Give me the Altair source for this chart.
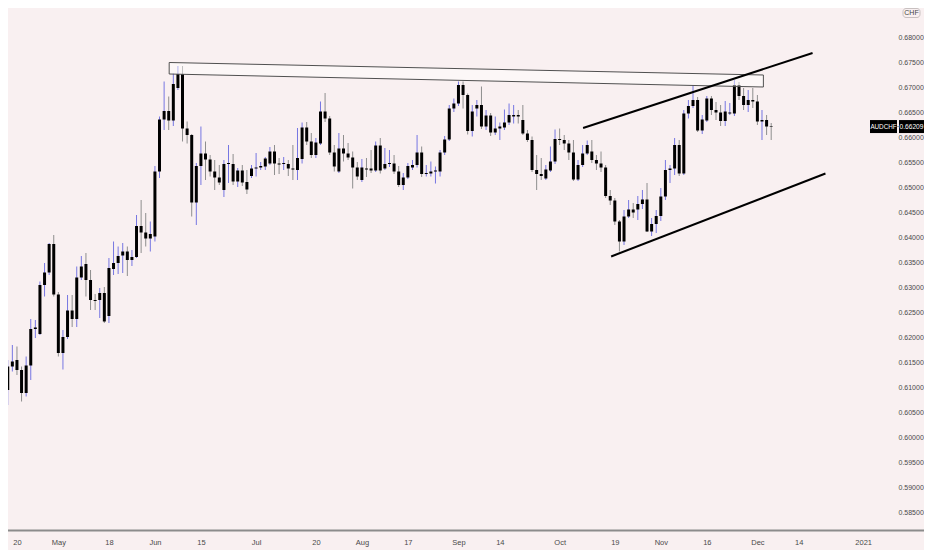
import altair as alt
import pandas as pd

# ---------------- data ----------------
# trading-day index: 0 = 20 Apr 2020, 164 = 4 Dec 2020
day_index = list(range(-2, 165))

opens = [0.6094, 0.6141, 0.6154, 0.6134, 0.6088, 0.6143, 0.6216, 0.6206, 0.6304, 0.6329,
         0.6386, 0.6285, 0.6168, 0.6200, 0.6253, 0.6236, 0.6319, 0.6346, 0.6314, 0.6274,
         0.6274, 0.6288, 0.6242, 0.6336, 0.6348, 0.6363, 0.6371, 0.6354, 0.6360, 0.6422,
         0.6409, 0.6397, 0.6401, 0.6531, 0.6635, 0.6652, 0.6633, 0.6698, 0.6726, 0.6617,
         0.6604, 0.6469, 0.6542, 0.6567, 0.6555, 0.6531, 0.6519, 0.6494, 0.6546, 0.6546,
         0.6511, 0.6533, 0.6510, 0.6522, 0.6537, 0.6539, 0.6541, 0.6547, 0.6571, 0.6547,
         0.6546, 0.6546, 0.6537, 0.6534, 0.6556, 0.6619, 0.6591, 0.6564, 0.6587, 0.6651,
         0.6637, 0.6569, 0.6531, 0.6577, 0.6567, 0.6559, 0.6539, 0.6514, 0.6537, 0.6537,
         0.6533, 0.6583, 0.6537, 0.6546, 0.6547, 0.6531, 0.6504, 0.6519, 0.6539, 0.6544,
         0.6569, 0.6526, 0.6527, 0.6531, 0.6531, 0.6569, 0.6595, 0.6657, 0.6667, 0.6704,
         0.6684, 0.6612, 0.6657, 0.6664, 0.6621, 0.6643, 0.6609, 0.6617, 0.6619, 0.6629,
         0.6641, 0.6644, 0.6634, 0.6607, 0.6594, 0.6534, 0.6526, 0.6517, 0.6533, 0.6551,
         0.6596, 0.6594, 0.6587, 0.6569, 0.6515, 0.6544, 0.6567, 0.6571, 0.6554, 0.6547,
         0.6539, 0.6482, 0.6473, 0.6431, 0.6391, 0.6441, 0.6455, 0.6455, 0.6466, 0.6475,
         0.6411, 0.6426, 0.6442, 0.6481, 0.6534, 0.6537, 0.6584, 0.6527, 0.6647, 0.6662,
         0.6674, 0.6613, 0.6633, 0.6677, 0.6654, 0.6649, 0.6632, 0.6647, 0.6647, 0.6704,
         0.6682, 0.6664, 0.6674, 0.6671, 0.6631, 0.6634, 0.6622]

highs = [0.6154, 0.6184, 0.6181, 0.6141, 0.6161, 0.6236, 0.6234, 0.6311, 0.6348, 0.6388,
         0.6404, 0.6290, 0.6214, 0.6284, 0.6284, 0.6341, 0.6362, 0.6368, 0.6334, 0.6286,
         0.6298, 0.6300, 0.6358, 0.6391, 0.6381, 0.6388, 0.6381, 0.6374, 0.6444, 0.6474,
         0.6448, 0.6431, 0.6542, 0.6641, 0.6711, 0.6681, 0.6727, 0.6742, 0.6742, 0.6631,
         0.6606, 0.6548, 0.6621, 0.6591, 0.6564, 0.6554, 0.6544, 0.6554, 0.6584, 0.6566,
         0.6538, 0.6544, 0.6534, 0.6544, 0.6568, 0.6550, 0.6560, 0.6580, 0.6584, 0.6558,
         0.6560, 0.6554, 0.6584, 0.6618, 0.6629, 0.6630, 0.6608, 0.6598, 0.6671, 0.6688,
         0.6642, 0.6584, 0.6608, 0.6604, 0.6588, 0.6571, 0.6550, 0.6556, 0.6558, 0.6574,
         0.6591, 0.6598, 0.6578, 0.6574, 0.6564, 0.6542, 0.6528, 0.6548, 0.6554, 0.6604,
         0.6581, 0.6544, 0.6551, 0.6541, 0.6574, 0.6602, 0.6664, 0.6677, 0.6711, 0.6711,
         0.6687, 0.6664, 0.6674, 0.6701, 0.6654, 0.6648, 0.6641, 0.6629, 0.6655, 0.6667,
         0.6664, 0.6654, 0.6664, 0.6614, 0.6601, 0.6564, 0.6558, 0.6544, 0.6581, 0.6615,
         0.6617, 0.6604, 0.6594, 0.6594, 0.6554, 0.6584, 0.6593, 0.6594, 0.6564, 0.6571,
         0.6544, 0.6494, 0.6478, 0.6434, 0.6454, 0.6474, 0.6468, 0.6482, 0.6494, 0.6508,
         0.6438, 0.6454, 0.6498, 0.6554, 0.6544, 0.6598, 0.6594, 0.6654, 0.6674, 0.6704,
         0.6680, 0.6644, 0.6682, 0.6682, 0.6670, 0.6664, 0.6672, 0.6668, 0.6714, 0.6710,
         0.6698, 0.6694, 0.6698, 0.6684, 0.6654, 0.6644, 0.6628]

lows = [0.6064, 0.6131, 0.6124, 0.6071, 0.6081, 0.6114, 0.6198, 0.6204, 0.6281, 0.6324,
        0.6281, 0.6161, 0.6135, 0.6196, 0.6220, 0.6220, 0.6314, 0.6281, 0.6254, 0.6254,
        0.6238, 0.6228, 0.6228, 0.6324, 0.6326, 0.6328, 0.6322, 0.6342, 0.6358, 0.6368,
        0.6381, 0.6371, 0.6391, 0.6518, 0.6614, 0.6614, 0.6622, 0.6694, 0.6591, 0.6587,
        0.6441, 0.6424, 0.6504, 0.6514, 0.6521, 0.6494, 0.6504, 0.6480, 0.6508, 0.6504,
        0.6500, 0.6502, 0.6486, 0.6518, 0.6521, 0.6534, 0.6534, 0.6544, 0.6524, 0.6526,
        0.6534, 0.6522, 0.6514, 0.6514, 0.6547, 0.6584, 0.6558, 0.6558, 0.6584, 0.6630,
        0.6564, 0.6531, 0.6528, 0.6551, 0.6554, 0.6497, 0.6514, 0.6510, 0.6520, 0.6528,
        0.6530, 0.6527, 0.6534, 0.6540, 0.6526, 0.6500, 0.6494, 0.6516, 0.6534, 0.6539,
        0.6520, 0.6521, 0.6521, 0.6507, 0.6521, 0.6564, 0.6592, 0.6650, 0.6662, 0.6657,
        0.6605, 0.6601, 0.6641, 0.6616, 0.6614, 0.6602, 0.6604, 0.6594, 0.6614, 0.6624,
        0.6627, 0.6627, 0.6604, 0.6590, 0.6530, 0.6494, 0.6514, 0.6514, 0.6530, 0.6546,
        0.6584, 0.6574, 0.6554, 0.6512, 0.6512, 0.6540, 0.6564, 0.6548, 0.6534, 0.6530,
        0.6478, 0.6464, 0.6424, 0.6371, 0.6384, 0.6438, 0.6438, 0.6434, 0.6456, 0.6410,
        0.6402, 0.6408, 0.6432, 0.6474, 0.6508, 0.6524, 0.6522, 0.6524, 0.6637, 0.6658,
        0.6610, 0.6606, 0.6630, 0.6644, 0.6634, 0.6622, 0.6622, 0.6644, 0.6642, 0.6674,
        0.6654, 0.6650, 0.6658, 0.6624, 0.6594, 0.6604, 0.6594]

closes = [0.6141, 0.6151, 0.6134, 0.6088, 0.6143, 0.6216, 0.6219, 0.6304, 0.6329, 0.6386,
          0.6285, 0.6168, 0.6200, 0.6253, 0.6236, 0.6319, 0.6341, 0.6314, 0.6274, 0.6272,
          0.6288, 0.6231, 0.6338, 0.6348, 0.6362, 0.6371, 0.6354, 0.6360, 0.6422, 0.6409,
          0.6397, 0.6406, 0.6531, 0.6635, 0.6652, 0.6633, 0.6706, 0.6726, 0.6617, 0.6604,
          0.6469, 0.6542, 0.6567, 0.6555, 0.6531, 0.6519, 0.6509, 0.6546, 0.6548, 0.6511,
          0.6533, 0.6509, 0.6495, 0.6537, 0.6539, 0.6542, 0.6557, 0.6571, 0.6547, 0.6545,
          0.6548, 0.6537, 0.6535, 0.6558, 0.6619, 0.6591, 0.6564, 0.6589, 0.6651, 0.6637,
          0.6569, 0.6541, 0.6577, 0.6567, 0.6559, 0.6539, 0.6521, 0.6539, 0.6535, 0.6533,
          0.6583, 0.6533, 0.6546, 0.6548, 0.6531, 0.6504, 0.6519, 0.6542, 0.6544, 0.6569,
          0.6526, 0.6528, 0.6531, 0.6533, 0.6569, 0.6595, 0.6657, 0.6667, 0.6704, 0.6684,
          0.6612, 0.6651, 0.6664, 0.6621, 0.6643, 0.6609, 0.6617, 0.6621, 0.6629, 0.6644,
          0.6644, 0.6641, 0.6607, 0.6594, 0.6534, 0.6526, 0.6522, 0.6535, 0.6551, 0.6596,
          0.6594, 0.6587, 0.6569, 0.6515, 0.6544, 0.6567, 0.6584, 0.6554, 0.6547, 0.6539,
          0.6482, 0.6473, 0.6431, 0.6391, 0.6441, 0.6455, 0.6449, 0.6466, 0.6475, 0.6411,
          0.6426, 0.6442, 0.6481, 0.6534, 0.6537, 0.6584, 0.6527, 0.6647, 0.6662, 0.6674,
          0.6613, 0.6635, 0.6677, 0.6654, 0.6649, 0.6632, 0.6651, 0.6649, 0.6704, 0.6682,
          0.6664, 0.6674, 0.6671, 0.6631, 0.6634, 0.6621, 0.66209]

tick_index = [0, 9, 20, 30, 40, 52, 65, 75, 85, 96, 105, 118, 130, 140, 150, 161, 170, 184]
tick_labels = ["20", "May", "18", "Jun", "15", "Jul", "20", "Aug", "17", "Sep",
               "14", "Oct", "19", "Nov", "16", "Dec", "14", "2021"]

price_ticks = [0.585, 0.590, 0.595, 0.600, 0.605, 0.610, 0.615, 0.620, 0.625, 0.630,
               0.635, 0.640, 0.645, 0.650, 0.655, 0.660, 0.665, 0.670, 0.675, 0.680]

# drawings (in trading-day index / price units)
rect_x = [33.1, 162.3]
rect_top = [0.6749, 0.6724]
rect_bottom = [0.6726, 0.6700]

upper_x = [123.1, 173.0]
upper_y = [0.6618, 0.6768]
lower_x = [129.2, 175.8]
lower_y = [0.6361, 0.6527]

symbol = "AUDCHF"
currency = "CHF"
last_price = 0.66209

# ---------------- styling ----------------
BG = "#f9f0f1"
FONT = "Liberation Sans, Arial, sans-serif"
UP_WICK = "#7676e2"
DOWN_WICK = "#8e8e8e"
W, H = 862, 523

xs = alt.Scale(domain=[-0.8597, 184.397], zero=False, nice=False)
ys = alt.Scale(domain=[0.5812, 0.6858], zero=False, nice=False)

df = pd.DataFrame({"i": day_index, "o": opens, "h": highs, "l": lows, "c": closes})
df["wick"] = [UP_WICK if c >= o else DOWN_WICK for o, c in zip(df["o"], df["c"])]

label_expr = "''"
for idx, lab in reversed(list(zip(tick_index, tick_labels))):
    label_expr = f"datum.value == {idx} ? '{lab}' : ({label_expr})"

x_axis = alt.Axis(values=tick_index, labelExpr=label_expr, grid=False, domain=False,
                  ticks=False, labelPadding=7, labelFontSize=7.5, labelColor="#4a4a4a",
                  labelFont=FONT, title=None, labelFlush=False, labelOverlap=False)
y_axis = alt.Axis(orient="right", values=price_ticks, format=".5f", grid=False,
                  domain=False, ticks=False, labelPadding=28, labelAlign="left",
                  labelFontSize=7, labelColor="#4a4a4a", labelFont=FONT, title=None,
                  labelOverlap=False)


def X(field):
    return alt.X(field, scale=xs, axis=x_axis)


def Y(field):
    return alt.Y(field, scale=ys, axis=y_axis)


wicks = alt.Chart(df).mark_rule(strokeWidth=1).encode(
    x=X("i:Q"), y=Y("l:Q"), y2="h:Q",
    color=alt.Color("wick:N", scale=None),
)

bodies = alt.Chart(df).mark_bar(size=3, color="#000000").encode(
    x=X("i:Q"), y=Y("o:Q"), y2="c:Q",
)

rect_df = pd.DataFrame({"x": rect_x, "top": rect_top, "bot": rect_bottom})
rect_fill = alt.Chart(rect_df).mark_area(color="#ffffff", opacity=0.45).encode(
    x=X("x:Q"), y=Y("top:Q"), y2="bot:Q",
)
outline_df = pd.DataFrame({
    "x": [rect_x[0], rect_x[1], rect_x[1], rect_x[0], rect_x[0]],
    "y": [rect_top[0], rect_top[1], rect_bottom[1], rect_bottom[0], rect_top[0]],
    "k": [0, 1, 2, 3, 4],
})
rect_line = alt.Chart(outline_df).mark_line(color="#505050", strokeWidth=1).encode(
    x=X("x:Q"), y=Y("y:Q"), order="k:O",
)

trend_df = pd.DataFrame({
    "x": upper_x + lower_x,
    "y": upper_y + lower_y,
    "g": ["upper", "upper", "lower", "lower"],
})
trends = alt.Chart(trend_df).mark_line(color="#000000", strokeWidth=2).encode(
    x=X("x:Q"), y=Y("y:Q"), detail="g:N",
)

last_df = pd.DataFrame({"price": [last_price], "sym": [symbol]})
last_base = alt.Chart(last_df)
box1 = last_base.mark_rule(strokeWidth=13, color="#000000", strokeCap="butt").encode(
    x=alt.value(862), x2=alt.value(889), y=Y("price:Q"))
box2 = last_base.mark_rule(strokeWidth=13, color="#000000", strokeCap="butt").encode(
    x=alt.value(891), x2=alt.value(916), y=Y("price:Q"))
dash = last_base.mark_rule(strokeWidth=1, color="#9a9a9a").encode(
    x=alt.value(889), x2=alt.value(891), y=Y("price:Q"))
sym_text = last_base.mark_text(color="#ffffff", fontSize=6.3, font=FONT).encode(
    x=alt.value(875.5), y=Y("price:Q"), text="sym:N")
price_text = last_base.mark_text(color="#ffffff", fontSize=6.6, font=FONT).encode(
    x=alt.value(903.5), y=Y("price:Q"), text=alt.Text("price:Q", format=".5f"))

cur_df = pd.DataFrame({"t": [currency]})
cur_box = alt.Chart(cur_df).mark_rect(fill=BG, stroke="#c8c0c0", strokeWidth=1,
                                      cornerRadius=3).encode(
    x=alt.value(895), x2=alt.value(912), y=alt.value(0.5), y2=alt.value(9.5))
cur_text = alt.Chart(cur_df).mark_text(color="#444444", fontSize=7, font=FONT).encode(
    x=alt.value(903.5), y=alt.value(5), text="t:N")

axis_line = alt.Chart(cur_df).mark_rule(color="#8c8c8c", strokeWidth=2).encode(
    x=alt.value(0), x2=alt.value(916), y=alt.value(522.5))

chart = alt.layer(
    wicks, bodies, rect_fill, rect_line, trends,
    box1, box2, dash, sym_text, price_text, cur_box, cur_text, axis_line,
).properties(
    width=W, height=H,
    autosize=alt.AutoSizeParams(type="none"),
    padding={"left": 0, "top": 0, "right": 54, "bottom": 19},
    background=BG,
).configure_view(stroke=None, fill=BG)

chart.save("out.html", embed_options={"renderer": "svg", "actions": False})
